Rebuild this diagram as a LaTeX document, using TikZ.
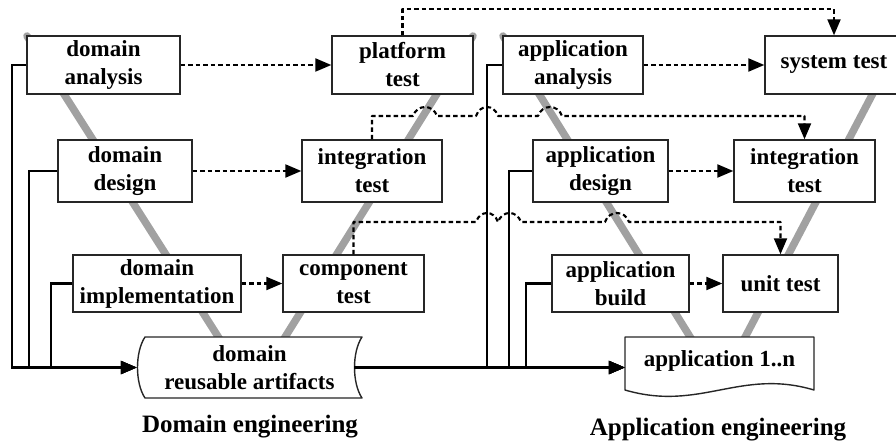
\documentclass[tikz,border=0pt]{standalone}
\usepackage{fontspec}
\setmainfont{Liberation Serif}
\usetikzlibrary{arrows.meta}
\tikzset{
  stagebox/.style={draw=black!85, line width=1.4pt, fill=white, inner sep=0pt,
    align=center, font=\fontsize{23}{28}\selectfont\bfseries},
  storetext/.style={inner sep=0pt, align=center, font=\fontsize{23}{28}\selectfont\bfseries},
  shapeline/.style={draw=black!85, line width=1.4pt, fill=white, line join=round},
  vline/.style={line width=7.5pt, draw=black!37, line cap=round, line join=round},
  flow/.style={line width=2.1pt, line join=miter, -{Triangle[length=16pt,width=13pt]}},
  dlink/.style={line width=2.1pt, dash pattern=on 4.5pt off 3pt, line join=round,
    -{Triangle[length=16pt,width=13pt]}},
  caption/.style={inner sep=0pt, font=\fontsize{25}{30}\selectfont\bfseries},
}
\begin{document}
\begin{tikzpicture}[x=1pt, y=-1pt]
\useasboundingbox (0,0) rectangle (896,441);
\clip (0,0) rectangle (896,441);

% the two V-model backbones
\draw[vline] (27,36) -- (252,390) -- (473,36);
\draw[vline] (503,36) -- (720,385) -- (903,36);

% storage symbols
\draw[shapeline] (145,337) -- (362,337) .. controls (352,352) and (352,383) .. (362,398)
  -- (145,398) .. controls (135,383) and (135,352) .. (145,337) -- cycle;
\draw[shapeline] (625,337) -- (814,337) -- (814,390) .. controls (740,368) and (700,412) .. (625,390) -- cycle;

% domain engineering stages
\node[stagebox, minimum width=153pt, minimum height=58pt] (da) at (103.5,65) {domain\\analysis};
\node[stagebox, minimum width=134pt, minimum height=62pt] (dd) at (125,171) {domain\\design};
\node[stagebox, minimum width=168pt, minimum height=57pt] (di) at (157,283.5) {domain\\implementation};
\node[stagebox, minimum width=141pt, minimum height=58pt] (pt) at (402.5,65) {platform\\test};
\node[stagebox, minimum width=140pt, minimum height=62pt] (it) at (372,171) {integration\\test};
\node[stagebox, minimum width=141pt, minimum height=57pt] (ct) at (353.5,283.5) {component\\test};
\node[storetext, minimum width=225pt, minimum height=61pt] (art) at (249.5,367.5) {domain\\reusable artifacts};

% application engineering stages
\node[stagebox, minimum width=140pt, minimum height=58pt] (aa) at (573,65) {application\\analysis};
\node[stagebox, minimum width=138pt, minimum height=58pt] (st) at (834,65) {system test};
\node[stagebox, minimum width=135pt, minimum height=62pt] (ad) at (600.5,171) {application\\design};
\node[stagebox, minimum width=141pt, minimum height=62pt] (ait) at (804.5,171) {integration\\test};
\node[stagebox, minimum width=137pt, minimum height=57pt] (ab) at (620.5,283.5) {application\\build};
\node[stagebox, minimum width=115pt, minimum height=57pt] (ut) at (780.5,283.5) {unit test};
\node[storetext, minimum width=189pt, minimum height=53pt] (app) at (719.5,361) {application 1..n};

% captions
\node[caption] (capd) at (250,427) {Domain engineering};
\node[caption] (capa) at (718,430) {Application engineering};

% artifact flow (solid)
\draw[flow] (da.west) -- ++(-14,0) |- (art.west);
\draw[flow] (dd.west) -- ++(-28,0) |- (art.west);
\draw[flow] (di.west) -- ++(-21,0) |- (art.west);
\coordinate (artout) at ([xshift=-8pt]art.east);
\coordinate (appin) at (app.west |- artout);
\draw[flow] (artout) -- (appin);
\draw[flow] (aa.west) -- ++(-15,0) |- (appin);
\draw[flow] (ad.west) -- ++(-23,0) |- (appin);
\draw[flow] (ab.west) -- ++(-25,0) |- (appin);

% test planning (dashed)
\draw[dlink] (da) -- (pt);
\draw[dlink] (dd) -- (it);
\draw[dlink] (di) -- (ct);
\draw[dlink] (aa) -- (st);
\draw[dlink] (ad) -- (ait);
\draw[dlink] (ab) -- (ut);

% reuse of domain tests
\draw[dlink] (pt.north) -- ++(0,-26) -| (st.north);
\draw[dlink] (it.north) -- (372,116) -- (413,116)
  .. controls (417,104) and (433,104) .. (437,116) -- (476,116)
  .. controls (480,104) and (494,104) .. (498,116) -- (538,116)
  .. controls (542,104) and (558,104) .. (562,116) -| (ait.north);
\draw[dlink] (ct.north) -- (353.5,222) -- (476,222)
  .. controls (480,210) and (494,210) .. (498,222)
  .. controls (502,210) and (517,210) .. (521,222) -- (605,222)
  .. controls (609,210) and (625,210) .. (629,222) -| (ut.north);
\end{tikzpicture}
\end{document}
